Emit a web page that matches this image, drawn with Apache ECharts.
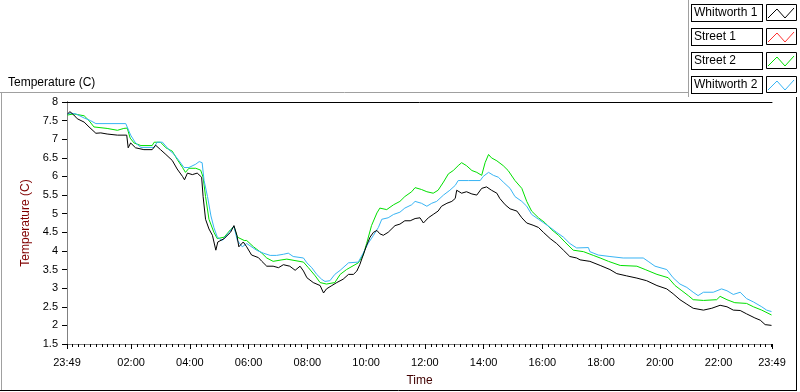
<!DOCTYPE html>
<html>
<head>
<meta charset="utf-8">
<script src="https://cdn.jsdelivr.net/npm/echarts@6/dist/echarts.min.js"></script>
<style>
  html, body { margin: 0; padding: 0; background: #fff; }
  #chart { width: 800px; height: 392px; }
</style>
</head>
<body>
<div id="chart"></div>
<script>
// series names and colours (legend order)
const seriesNames = ['Whitworth 1', 'Street 1', 'Street 2', 'Whitworth 2'];
const seriesColors = ['#000000', '#ff3030', '#00e000', '#38b4f4'];

// x axis: minutes since 23:49
const labelMinutes = [0, 131, 251, 371, 491, 611, 731, 851, 971, 1091, 1211, 1331, 1440];
const labelTexts = ['23:49', '02:00', '04:00', '06:00', '08:00', '10:00', '12:00', '14:00', '16:00', '18:00', '20:00', '22:00', '23:49'];

// Whitworth 1
const w1Time = [1,6,14,21,35,45,59,69,82,103,122,125,130,140,157,174,181,191,202,215,225,236,240,246,256,266,275,278,283,290,297,304,308,321,334,341,347,351,360,367,377,391,398,408,421,432,442,455,466,476,483,490,503,517,524,530,541,551,564,575,585,592,598,605,612,619,626,633,639,646,656,670,680,690,701,711,721,728,738,748,758,765,776,786,793,796,806,816,827,837,847,857,867,878,884,895,905,919,929,939,952,963,973,987,1000,1014,1027,1041,1048,1068,1089,1109,1123,1143,1164,1184,1205,1225,1238,1252,1266,1279,1300,1317,1334,1348,1361,1375,1388,1405,1416,1426,1439];
const w1Temp = [7.68,7.74,7.65,7.55,7.46,7.33,7.16,7.17,7.14,7.11,7.11,6.77,6.90,6.77,6.72,6.72,6.84,6.72,6.59,6.43,6.20,6.00,5.91,6.09,6.05,6.09,5.98,5.46,4.85,4.59,4.42,4.02,4.24,4.33,4.50,4.68,4.42,4.11,4.24,4.11,3.89,3.82,3.72,3.59,3.59,3.55,3.63,3.59,3.48,3.59,3.46,3.28,3.15,3.07,2.87,2.98,3.07,3.15,3.24,3.37,3.37,3.46,3.63,3.89,4.15,4.37,4.50,4.55,4.46,4.42,4.50,4.68,4.72,4.81,4.81,4.87,4.89,4.75,4.89,4.98,5.07,5.20,5.28,5.33,5.41,5.63,5.55,5.59,5.53,5.50,5.68,5.72,5.63,5.55,5.41,5.24,5.13,5.07,4.89,4.75,4.69,4.63,4.50,4.33,4.20,4.02,3.85,3.81,3.76,3.72,3.61,3.50,3.39,3.33,3.27,3.20,3.07,2.98,2.85,2.69,2.57,2.46,2.41,2.46,2.54,2.50,2.41,2.40,2.31,2.20,2.14,2.02,2.00];

// Street 1 (no visible trace)
const s1Time = [];
const s1Temp = [];

// Street 2
const s2Time = [1,14,35,45,55,82,103,116,123,129,137,151,174,178,191,202,215,225,236,242,249,263,273,278,283,290,300,307,321,334,341,348,362,367,381,398,408,421,439,449,483,493,507,517,530,547,558,571,595,605,612,622,633,639,653,667,680,690,704,711,724,735,748,758,769,779,789,799,806,816,827,837,847,854,861,867,878,891,901,915,929,939,949,963,976,990,1004,1017,1034,1055,1075,1089,1106,1130,1164,1181,1205,1228,1242,1256,1269,1279,1300,1327,1334,1348,1364,1388,1402,1419,1439];
const s2Temp = [7.65,7.68,7.63,7.50,7.33,7.29,7.24,7.29,7.30,7.03,6.90,6.83,6.83,6.92,6.92,6.77,6.68,6.46,6.24,6.11,6.22,6.22,6.17,5.98,5.46,4.85,4.50,4.33,4.37,4.57,4.66,4.37,4.28,4.28,4.11,3.94,3.81,3.72,3.76,3.78,3.70,3.55,3.33,3.15,3.11,3.15,3.37,3.50,3.68,3.89,4.20,4.68,5.02,5.15,5.11,5.24,5.33,5.46,5.59,5.70,5.65,5.59,5.55,5.63,5.85,6.07,6.16,6.29,6.37,6.29,6.16,6.11,6.03,6.37,6.59,6.50,6.42,6.29,6.16,5.89,5.68,5.33,5.07,4.89,4.76,4.57,4.42,4.24,4.02,3.98,3.88,3.81,3.72,3.61,3.59,3.50,3.37,3.28,3.07,2.93,2.80,2.69,2.67,2.69,2.78,2.69,2.61,2.59,2.50,2.41,2.28];

// Whitworth 2
const w2Time = [1,8,18,35,48,59,120,123,130,140,151,178,184,195,208,219,229,239,249,263,270,276,280,287,294,300,307,317,331,341,348,358,367,387,401,415,428,442,452,462,483,490,500,510,520,527,537,547,558,575,595,605,615,626,636,643,656,667,680,690,704,711,724,735,745,755,769,782,793,799,820,844,850,861,871,881,891,905,915,929,939,949,963,973,987,1000,1014,1027,1041,1065,1068,1085,1109,1136,1177,1187,1201,1225,1238,1252,1266,1279,1289,1300,1320,1337,1348,1361,1375,1388,1402,1419,1429,1439];
const w2Temp = [7.68,7.70,7.68,7.57,7.50,7.42,7.42,7.44,7.11,6.90,6.78,6.78,6.92,6.92,6.72,6.59,6.42,6.24,6.24,6.33,6.40,6.37,5.89,5.46,4.94,4.63,4.37,4.28,4.50,4.66,4.28,4.11,4.20,4.02,3.94,3.88,3.88,3.91,3.94,3.85,3.81,3.68,3.55,3.37,3.24,3.18,3.20,3.37,3.48,3.68,3.70,3.94,4.20,4.42,4.63,4.85,4.89,4.98,5.04,5.15,5.24,5.33,5.28,5.20,5.28,5.33,5.50,5.63,5.76,5.89,5.89,5.89,6.00,6.11,6.03,5.98,5.85,5.68,5.46,5.33,5.20,4.98,4.85,4.76,4.63,4.50,4.37,4.20,4.08,4.09,3.98,3.89,3.85,3.81,3.81,3.72,3.59,3.50,3.28,3.11,3.02,2.89,2.80,2.89,2.89,2.98,2.93,2.83,2.89,2.72,2.63,2.50,2.41,2.37];

const FONT = 'Liberation Sans';

// minor ticks every 12 min from 00:00, plus both ends
const minorTicks = [0];
for (let m = 11; m < 1440; m += 12) minorTicks.push(m);
minorTicks.push(1440);

const pairs = (t, v) => t.map((x, i) => [x, v[i]]);
const seriesData = [pairs(w1Time, w1Temp), pairs(s1Time, s1Temp), pairs(s2Time, s2Temp), pairs(w2Time, w2Temp)];

// legend geometry; the icon boxes are drawn with graphic next to the legend text boxes
const LEG_TOP = 4, LEG_PITCH = 24, ICON_X = 766, ICON_W = 31, ICON_H = 17;

const legendGraphics = [];
seriesNames.forEach((name, i) => {
  const y = LEG_TOP + i * LEG_PITCH;
  legendGraphics.push({
    type: 'rect', silent: true,
    shape: { x: ICON_X + 0.5, y: y + 0.5, width: ICON_W - 1, height: ICON_H - 1 },
    style: { fill: '#fff', stroke: '#000', lineWidth: 1 }
  });
  legendGraphics.push({
    type: 'polyline', silent: true,
    shape: { points: [[ICON_X + 2, y + 14], [ICON_X + 11, y + 5], [ICON_X + 19, y + 14], [ICON_X + 28, y + 4]] },
    style: { fill: null, stroke: seriesColors[i], lineWidth: 1 }
  });
});

const frameGraphics = [
  { type: 'line', silent: true, shape: { x1: 0, y1: 92.5, x2: 689, y2: 92.5 }, style: { stroke: '#a0a0a0', lineWidth: 1 } },
  { type: 'line', silent: true, shape: { x1: 1.5, y1: 92, x2: 1.5, y2: 391 }, style: { stroke: '#a0a0a0', lineWidth: 1 } },
  { type: 'line', silent: true, shape: { x1: 688.5, y1: 0, x2: 688.5, y2: 97 }, style: { stroke: '#a0a0a0', lineWidth: 1 } },
  { type: 'line', silent: true, shape: { x1: 0, y1: 390.5, x2: 797, y2: 390.5 }, style: { stroke: '#000', lineWidth: 1 } },
  { type: 'line', silent: true, shape: { x1: 796.5, y1: 97, x2: 796.5, y2: 391 }, style: { stroke: '#000', lineWidth: 1 } }
];

const chart = echarts.init(document.getElementById('chart'));

chart.setOption({
  animation: false,
  backgroundColor: '#fff',
  textStyle: { fontFamily: FONT },
  title: {
    text: 'Temperature (C)',
    left: 3, top: 72,
    textStyle: { fontSize: 12, fontWeight: 'normal', color: '#000', fontFamily: FONT }
  },
  legend: {
    orient: 'vertical',
    right: 37, top: LEG_TOP,
    padding: 0,
    align: 'left',
    itemGap: 6,
    itemWidth: 1, itemHeight: ICON_H,
    selectedMode: false,
    icon: 'rect',
    itemStyle: { opacity: 0 },
    lineStyle: { opacity: 0 },
    data: seriesNames,
    textStyle: {
      fontSize: 12, color: '#000', fontFamily: FONT,
      width: 66, height: 14, lineHeight: 14,
      padding: [1, 2],
      borderColor: '#000', borderWidth: 1, backgroundColor: '#fff'
    }
  },
  grid: { left: 67, right: 28, top: 102, bottom: 40 },
  xAxis: [
    {
      type: 'value', min: 0, max: 1440, position: 'bottom',
      name: 'Time', nameLocation: 'middle', nameGap: 31,
      nameTextStyle: { fontSize: 12, color: '#400000', fontFamily: FONT },
      axisLine: { lineStyle: { color: '#808080', width: 1 } },
      axisTick: { customValues: labelMinutes, length: 5, lineStyle: { color: '#000' } },
      axisLabel: {
        customValues: labelMinutes, margin: 13, fontSize: 11, color: '#000',
        formatter: v => labelTexts[labelMinutes.indexOf(v)] || ''
      },
      splitLine: { show: false }
    },
    {
      type: 'value', min: 0, max: 1440, position: 'bottom',
      axisLine: { show: false },
      axisTick: { customValues: minorTicks, length: 3, lineStyle: { color: '#000' } },
      axisLabel: { show: false },
      splitLine: { show: false }
    },
    {
      type: 'value', min: 0, max: 1440, position: 'top',
      axisLine: { lineStyle: { color: '#000', width: 1 } },
      axisTick: { show: false }, axisLabel: { show: false }, splitLine: { show: false }
    }
  ],
  yAxis: [
    {
      type: 'value', min: 1.5, max: 8, interval: 0.5,
      name: 'Temperature (C)', nameLocation: 'middle', nameGap: 28, nameRotate: 90,
      nameTextStyle: { fontSize: 12, color: '#800000', fontFamily: FONT },
      axisLine: { show: true, lineStyle: { color: '#000', width: 1 } },
      axisTick: { show: true, length: 5, lineStyle: { color: '#000' } },
      axisLabel: { fontSize: 11, color: '#000', margin: 9 },
      splitLine: { show: false }
    },
    {
      type: 'value', min: 1.5, max: 8, interval: 0.5, position: 'right',
      axisLine: { show: true, lineStyle: { color: '#808080', width: 1 } },
      axisTick: { show: false }, axisLabel: { show: false }, splitLine: { show: false }
    }
  ],
  graphic: frameGraphics.concat(legendGraphics),
  series: seriesNames.map((name, i) => ({
    name: name,
    type: 'line',
    data: seriesData[i],
    showSymbol: false,
    symbol: 'none',
    color: seriesColors[i],
    lineStyle: { width: 1, color: seriesColors[i] },
    z: i === 0 ? 5 : 2
  }))
});
</script>
</body>
</html>
